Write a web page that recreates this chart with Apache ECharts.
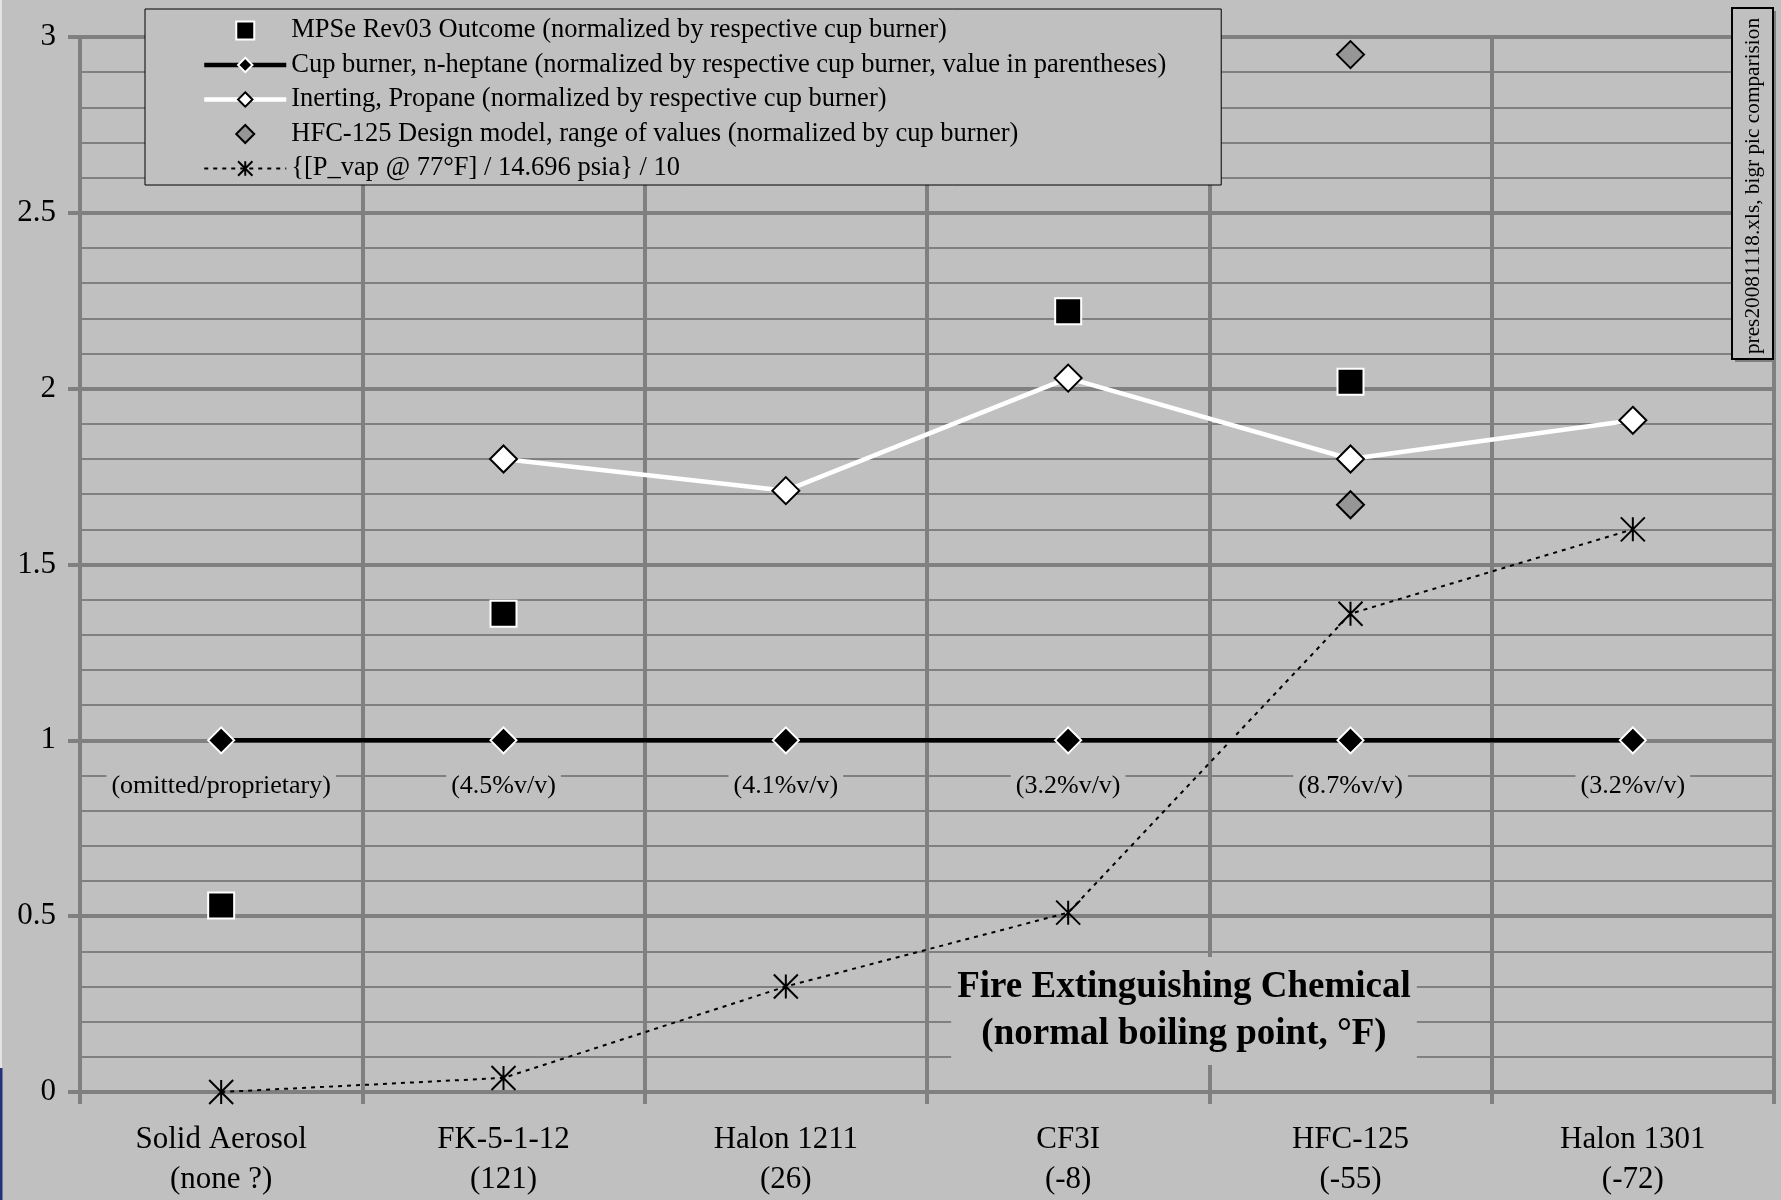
<!DOCTYPE html>
<html><head><meta charset="utf-8">
<script src="https://cdn.jsdelivr.net/npm/echarts@6/dist/echarts.min.js"></script>
<style>html,body{margin:0;padding:0;background:#c0c0c0;}#c{width:1781px;height:1200px;}</style>
</head><body><div id="c"></div>
<script>
const chemicals = ['Solid Aerosol', 'FK-5-1-12', 'Halon 1211', 'CF3I', 'HFC-125', 'Halon 1301'];
const boilingPoints = ['(none ?)', '(121)', '(26)', '(-8)', '(-55)', '(-72)'];
const mpseOutcome = [0.53, 1.36, null, 2.22, 2.02, null];
const cupBurner = [1, 1, 1, 1, 1, 1];
const cupBurnerLabels = ['(omitted/proprietary)', '(4.5%v/v)', '(4.1%v/v)', '(3.2%v/v)', '(8.7%v/v)', '(3.2%v/v)'];
const inertingPropane = [null, 1.80, 1.71, 2.03, 1.80, 1.91];
const hfcDesignChemical = 'HFC-125';
const hfcDesignValues = [2.95, 1.67];
const vaporPressure = [0, 0.04, 0.30, 0.51, 1.36, 1.60];
const yMin = 0, yMax = 3, yStep = 0.5;

const seriesNames = [
  'MPSe Rev03 Outcome (normalized by respective cup burner)',
  'Cup burner, n-heptane (normalized by respective cup burner, value in parentheses)',
  'Inerting, Propane (normalized by respective cup burner)',
  'HFC-125 Design model, range of values (normalized by cup burner)',
  '{[P_vap @ 77\u00B0F] / 14.696 psia} / 10'
];

const categories = chemicals.map((c, i) => c + '\n' + boilingPoints[i]);
const fix = a => a.map(v => v === null ? '-' : v);
const hfcCat = categories[chemicals.indexOf(hfcDesignChemical)];
const FONT = '"Liberation Serif", "Times New Roman", serif';
const GRID = '#808080';
const asterisk = 'path://M0,0L20,20M0,20L20,0M10,0L10,20';
const squareIcon = 'path://M0,0L10,0L10,10L0,10Z';
const diamondIcon = 'path://M5,0L10,5L5,10L0,5Z';

const chart = echarts.init(document.getElementById('c'), null, {renderer: 'canvas'});
chart.setOption({
  animation: false,
  backgroundColor: '#c0c0c0',
  textStyle: {fontFamily: FONT},
  grid: {left: 80, right: 7, top: 37, bottom: 105, containLabel: false},
  legend: {
    orient: 'vertical', left: 145, top: 9,
    backgroundColor: '#c0c0c0', borderColor: '#000', borderWidth: 1,
    padding: [8, 55, 3, 57],
    itemWidth: 82, itemHeight: 18, itemGap: 7.5,
    symbolKeepAspect: true,
    lineStyle: {width: 'inherit'},
    textStyle: {fontFamily: FONT, fontSize: 26.5, color: '#000', lineHeight: 26},
    data: [
      {name: seriesNames[0], icon: squareIcon},
      {name: seriesNames[1]},
      {name: seriesNames[2]},
      {name: seriesNames[3], icon: diamondIcon},
      {name: seriesNames[4]}
    ]
  },
  xAxis: {
    type: 'category', data: categories, boundaryGap: true,
    axisLine: {show: true, lineStyle: {color: GRID, width: 4}},
    axisTick: {show: true, length: 12, lineStyle: {color: GRID, width: 4}},
    axisLabel: {interval: 0, margin: 28, fontFamily: FONT, fontSize: 31, color: '#000', lineHeight: 40},
    splitLine: {show: true, interval: 0, lineStyle: {color: GRID, width: 4}}
  },
  yAxis: {
    type: 'value', min: yMin, max: yMax, interval: yStep,
    axisLine: {show: true, lineStyle: {color: GRID, width: 4}},
    axisTick: {show: true, length: 12, lineStyle: {color: GRID, width: 4}},
    axisLabel: {margin: 24, fontFamily: FONT, fontSize: 31, color: '#000'},
    splitLine: {show: true, lineStyle: {color: GRID, width: 4}},
    minorTick: {show: false, splitNumber: 5},
    minorSplitLine: {show: true, lineStyle: {color: GRID, width: 2}}
  },
  series: [
    {
      name: seriesNames[0], type: 'scatter', data: fix(mpseOutcome),
      symbol: 'rect', symbolSize: 26, z: 5,
      itemStyle: {color: '#000', borderColor: '#fff', borderWidth: 2, opacity: 1}
    },
    {
      name: seriesNames[1], type: 'line', data: cupBurner,
      symbol: 'diamond', symbolSize: 26, z: 3,
      lineStyle: {color: '#000', width: 4.5},
      itemStyle: {color: '#000', borderColor: '#fff', borderWidth: 2},
      label: {
        show: true, position: 'bottom', distance: 18,
        formatter: p => cupBurnerLabels[p.dataIndex],
        fontFamily: FONT, fontSize: 26, color: '#000',
        backgroundColor: '#c0c0c0', padding: [1, 5]
      }
    },
    {
      name: seriesNames[2], type: 'line', data: fix(inertingPropane),
      symbol: 'diamond', symbolSize: 27, z: 3,
      lineStyle: {color: '#fff', width: 4.5},
      itemStyle: {color: '#fff', borderColor: '#000', borderWidth: 2}
    },
    {
      name: seriesNames[3], type: 'scatter',
      data: hfcDesignValues.map(v => [hfcCat, v]),
      symbol: 'diamond', symbolSize: 27, z: 4,
      itemStyle: {color: '#969696', borderColor: '#000', borderWidth: 2, opacity: 1}
    },
    {
      name: seriesNames[4], type: 'line', data: vaporPressure,
      symbol: asterisk, symbolSize: 24, z: 4,
      lineStyle: {color: '#000', width: 2, type: [4, 5]},
      itemStyle: {color: 'none', borderColor: '#000', borderWidth: 2}
    }
  ],
  graphic: [
    {type: 'rect', shape: {x: 0, y: 0, width: 2, height: 1068}, style: {fill: '#e4e4e4'}, z: 10},
    {type: 'rect', shape: {x: 0, y: 1068, width: 2.5, height: 132}, style: {fill: '#22337a'}, z: 10},
    {
      type: 'text', z: 1, x: 1184, y: 1011,
      style: {
        text: 'Fire Extinguishing Chemical\n(normal boiling point, \u00B0F)',
        align: 'center', verticalAlign: 'middle',
        font: 'bold 37px ' + FONT, lineHeight: 47, fill: '#000',
        backgroundColor: '#c0c0c0', padding: [7, 6]
      }
    },
    {type: 'rect', z: 8, shape: {x: 1735, y: 11, width: 41, height: 351}, style: {fill: '#808080'}},
    {type: 'rect', z: 9, shape: {x: 1732, y: 8, width: 41, height: 351}, style: {fill: '#c0c0c0', stroke: '#000', lineWidth: 2}},
    {
      type: 'text', z: 10, x: 1753, y: 186, rotation: Math.PI / 2,
      style: {
        text: 'pres20081118.xls, bigr pic comparision',
        align: 'center', verticalAlign: 'middle',
        font: '21.3px ' + FONT, fill: '#000'
      }
    }
  ]
});
</script></body></html>
